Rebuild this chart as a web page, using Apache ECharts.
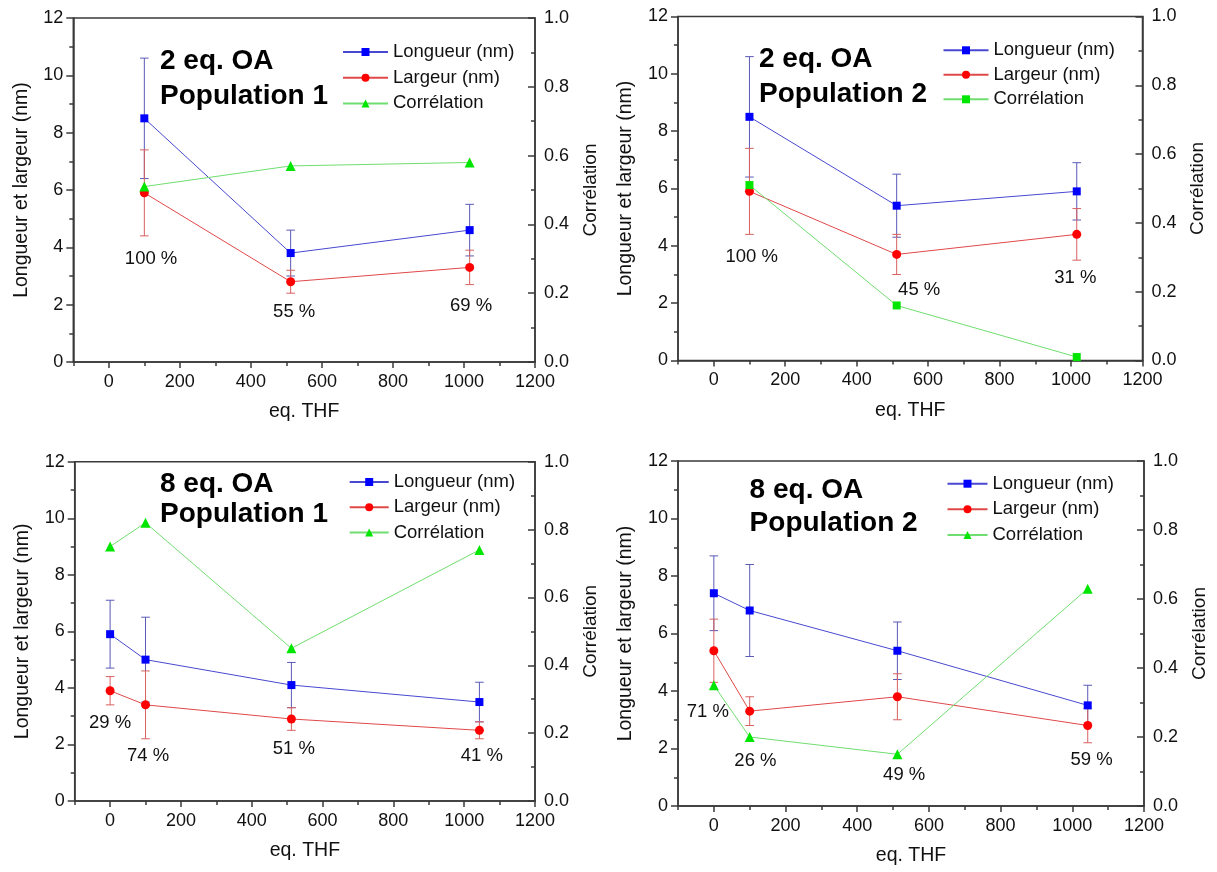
<!DOCTYPE html>
<html><head><meta charset="utf-8">
<script src="https://cdn.jsdelivr.net/npm/echarts@6/dist/echarts.min.js"></script>
<style>
html,body{margin:0;padding:0;background:#fff;width:1217px;height:872px;overflow:hidden}
.p{position:absolute}
</style></head>
<body>
<div id="c1" class="p" style="left:0;top:0;width:608px;height:436px"></div>
<div id="c2" class="p" style="left:608px;top:0;width:609px;height:436px"></div>
<div id="c3" class="p" style="left:0;top:436px;width:608px;height:436px"></div>
<div id="c4" class="p" style="left:608px;top:436px;width:609px;height:436px"></div>
<script>
// ---------- DATA ----------
const seriesNames = ['Longueur (nm)', 'Largeur (nm)', 'Corrélation'];
const xTickLabels = [0, 200, 400, 600, 800, 1000, 1200];
const xMinorTicks = [-100, 100, 300, 500, 700, 900, 1100];

// Panel 1 : 2 eq. OA, Population 1
const p1Title = ['2 eq. OA', 'Population 1'];
const p1Thf = [100, 512, 1016];
const p1Longueur = [8.5, 3.8, 4.6];
const p1LongueurErr = [2.1, 0.8, 0.9];
const p1Largeur = [5.9, 2.8, 3.3];
const p1LargeurErr = [1.5, 0.4, 0.6];
const p1Correlation = [0.51, 0.57, 0.58];
const p1Pct = ['100 %', '55 %', '69 %'];
const p1PctX = [119, 522, 1020];
const p1PctY = [3.6, 1.74, 1.97];

// Panel 2 : 2 eq. OA, Population 2
const p2Title = ['2 eq. OA', 'Population 2'];
const p2Thf = [100, 512, 1016];
const p2Longueur = [8.5, 5.4, 5.9];
const p2LongueurErr = [2.1, 1.1, 1.0];
const p2Largeur = [5.9, 3.7, 4.4];
const p2LargeurErr = [1.5, 0.7, 0.9];
const p2Correlation = [0.51, 0.16, 0.01];
const p2Pct = ['100 %', '45 %', '31 %'];
const p2PctX = [106, 575, 1012];
const p2PctY = [3.62, 2.46, 2.87];

// Panel 3 : 8 eq. OA, Population 1
const p3Title = ['8 eq. OA', 'Population 1'];
const p3Thf = [0, 100, 512, 1043];
const p3Longueur = [5.9, 5.0, 4.1, 3.5];
const p3LongueurErr = [1.2, 1.5, 0.8, 0.7];
const p3Largeur = [3.9, 3.4, 2.9, 2.5];
const p3LargeurErr = [0.5, 1.2, 0.4, 0.3];
const p3Correlation = [0.75, 0.82, 0.45, 0.74];
const p3Pct = ['29 %', '74 %', '51 %', '41 %'];
const p3PctX = [0, 107, 519, 1050];
const p3PctY = [2.75, 1.60, 1.84, 1.60];

// Panel 4 : 8 eq. OA, Population 2
const p4Title = ['8 eq. OA', 'Population 2'];
const p4Thf = [0, 100, 512, 1043];
const p4Longueur = [7.4, 6.8, 5.4, 3.5];
const p4LongueurErr = [1.3, 1.6, 1.0, 0.7];
const p4Largeur = [5.4, 3.3, 3.8, 2.8];
const p4LargeurErr = [1.1, 0.5, 0.8, 0.6];
const p4Correlation = [0.35, 0.20, 0.15, 0.63];
const p4Pct = ['71 %', '26 %', '49 %', '59 %'];
const p4PctX = [-17, 116, 531, 1054];
const p4PctY = [3.28, 1.58, 1.08, 1.60];

// ---------- STYLE / LAYOUT ----------
const FONT = '"Liberation Sans", Arial, Helvetica, sans-serif';
const AX = '#3a3a3a';
const TXT = '#111111';
const BLUE = '#0000ff', BLUE_LINE = '#4848d0', BLUE_ERR = '#5a5ab8';
const RED = '#ff0000', RED_LINE = '#e04848', RED_ERR = '#d86060';
const GREEN = '#00e600', GREEN_LINE = '#70dd70';

const panels = [
  { el: 'c1', title: p1Title, x: p1Thf, lon: p1Longueur, lonErr: p1LongueurErr, lar: p1Largeur, larErr: p1LargeurErr,
    cor: p1Correlation, corSymbol: 'triangle', pct: p1Pct, pctX: p1PctX, pctY: p1PctY,
    grid: { left: 73.3, top: 18, width: 466, height: 344 },
    titleX: 160, titleY: [62, 97], legend: { left: 342, top: 42, w: 45, gap: 5.7 } },
  { el: 'c2', title: p2Title, x: p2Thf, lon: p2Longueur, lonErr: p2LongueurErr, lar: p2Largeur, larErr: p2LargeurErr,
    cor: p2Correlation, corSymbol: 'rect', pct: p2Pct, pctX: p2PctX, pctY: p2PctY,
    grid: { left: 67, top: 16.5, width: 467.5, height: 344 },
    titleX: 151, titleY: [60, 95], legend: { left: 334.5, top: 40.3, w: 45, gap: 4.5 } },
  { el: 'c3', title: p3Title, x: p3Thf, lon: p3Longueur, lonErr: p3LongueurErr, lar: p3Largeur, larErr: p3LargeurErr,
    cor: p3Correlation, corSymbol: 'triangle', pct: p3Pct, pctX: p3PctX, pctY: p3PctY,
    grid: { left: 74.7, top: 25.7, width: 466.3, height: 339.3 },
    titleX: 160, titleY: [49, 79], legend: { left: 348.7, top: 36, w: 39, gap: 5.3 } },
  { el: 'c4', title: p4Title, x: p4Thf, lon: p4Longueur, lonErr: p4LongueurErr, lar: p4Largeur, larErr: p4LargeurErr,
    cor: p4Correlation, corSymbol: 'triangle', pct: p4Pct, pctX: p4PctX, pctY: p4PctY,
    grid: { left: 69.2, top: 25, width: 472.4, height: 345 },
    titleX: 141.6, titleY: [55.7, 88], legend: { left: 338.5, top: 37.7, w: 40, gap: 5.6 } }
];

function errSeries(xs, vals, errs, color) {
  return {
    type: 'custom', xAxisIndex: 0, yAxisIndex: 0, z: 1, silent: true,
    data: xs.map((x, i) => [x, vals[i] - errs[i], vals[i] + errs[i]]),
    renderItem: function (params, api) {
      const lo = api.coord([api.value(0), api.value(1)]);
      const hi = api.coord([api.value(0), api.value(2)]);
      const cw = 4.3;
      const st = { stroke: color, lineWidth: 1 };
      return { type: 'group', children: [
        { type: 'line', shape: { x1: lo[0], y1: lo[1], x2: hi[0], y2: hi[1] }, style: st },
        { type: 'line', shape: { x1: lo[0] - cw, y1: lo[1], x2: lo[0] + cw, y2: lo[1] }, style: st },
        { type: 'line', shape: { x1: hi[0] - cw, y1: hi[1], x2: hi[0] + cw, y2: hi[1] }, style: st }
      ]};
    }
  };
}

function build(p) {
  const g = p.grid;
  const axisLine = { show: true, onZero: false, lineStyle: { color: AX, width: 1.5 } };
  const tickStyle = { color: AX, width: 1.5 };
  return {
    animation: false,
    textStyle: { fontFamily: FONT },
    grid: { left: g.left, top: g.top, width: g.width, height: g.height, show: true,
            borderColor: AX, borderWidth: 1.5, backgroundColor: 'transparent' },
    xAxis: [
      { type: 'value', min: -100, max: 1200, interval: 100, position: 'bottom',
        name: 'eq. THF', nameLocation: 'middle', nameGap: 40,
        nameTextStyle: { fontSize: 19.5, color: TXT, fontFamily: FONT },
        axisLine: axisLine,
        axisTick: { show: true, length: 6, lineStyle: tickStyle, customValues: xTickLabels },
        axisLabel: { show: true, fontSize: 18, color: TXT, margin: 11, fontFamily: FONT,
                     customValues: xTickLabels, formatter: v => String(v) },
        splitLine: { show: false } },
      { type: 'value', min: -100, max: 1200, interval: 100, position: 'bottom',
        axisLine: { show: false, onZero: false },
        axisTick: { show: true, length: 4, lineStyle: tickStyle, customValues: xMinorTicks },
        axisLabel: { show: false },
        splitLine: { show: false } }
    ],
    yAxis: [
      { type: 'value', min: 0, max: 12, interval: 2, position: 'left',
        name: 'Longueur et largeur (nm)', nameLocation: 'middle', nameGap: 42, nameRotate: 90,
        nameTextStyle: { fontSize: 19.5, color: TXT, fontFamily: FONT },
        axisLine: axisLine,
        axisTick: { show: true, length: 7, lineStyle: tickStyle },
        minorTick: { show: true, splitNumber: 2, length: 4, lineStyle: tickStyle },
        axisLabel: { fontSize: 18, color: TXT, margin: 10, fontFamily: FONT },
        splitLine: { show: false } },
      { type: 'value', min: 0, max: 1, interval: 0.2, position: 'right',
        name: 'Corrélation', nameLocation: 'middle', nameGap: 46, nameRotate: 90,
        nameTextStyle: { fontSize: 19, color: TXT, fontFamily: FONT },
        axisLine: axisLine,
        axisTick: { show: true, inside: true, length: 7, lineStyle: tickStyle },
        minorTick: { show: true, splitNumber: 2, length: 4, lineStyle: tickStyle },
        axisLabel: { fontSize: 18, color: TXT, margin: 9, fontFamily: FONT,
                     formatter: v => v.toFixed(1) },
        splitLine: { show: false } }
    ],
    legend: {
      orient: 'vertical', left: p.legend.left, top: p.legend.top, padding: 0,
      itemWidth: p.legend.w, itemHeight: 10, itemGap: p.legend.gap, selectedMode: false,
      textStyle: { fontSize: 18.5, color: TXT, lineHeight: 20, fontFamily: FONT },
      data: seriesNames
    },
    graphic: [
      { type: 'text', left: p.titleX, top: p.titleY[0] - 15, silent: true,
        style: { text: p.title[0], font: 'bold 28px ' + FONT, fill: '#000' } },
      { type: 'text', left: p.titleX, top: p.titleY[1] - 15, silent: true,
        style: { text: p.title[1], font: 'bold 28px ' + FONT, fill: '#000' } }
    ],
    series: [
      errSeries(p.x, p.lon, p.lonErr, BLUE_ERR),
      errSeries(p.x, p.lar, p.larErr, RED_ERR),
      { name: seriesNames[0], type: 'line', xAxisIndex: 0, yAxisIndex: 0, z: 3,
        data: p.x.map((x, i) => [x, p.lon[i]]),
        symbol: 'rect', symbolSize: 8, showAllSymbol: true,
        itemStyle: { color: BLUE }, lineStyle: { color: BLUE_LINE, width: 1 } },
      { name: seriesNames[1], type: 'line', xAxisIndex: 0, yAxisIndex: 0, z: 3,
        data: p.x.map((x, i) => [x, p.lar[i]]),
        symbol: 'circle', symbolSize: 9,
        itemStyle: { color: RED }, lineStyle: { color: RED_LINE, width: 1 } },
      { name: seriesNames[2], type: 'line', xAxisIndex: 0, yAxisIndex: 1, z: 3,
        data: p.x.map((x, i) => [x, p.cor[i]]),
        symbol: p.corSymbol, symbolSize: p.corSymbol === 'rect' ? 8 : 10,
        itemStyle: { color: GREEN }, lineStyle: { color: GREEN_LINE, width: 1 } },
      { name: 'pct', type: 'scatter', xAxisIndex: 0, yAxisIndex: 0, z: 4, silent: true,
        symbolSize: 1, itemStyle: { color: '#ffffff', opacity: 1 },
        data: p.pct.map((t, i) => ({ name: t, value: [p.pctX[i], p.pctY[i]] })),
        label: { show: true, position: 'inside', formatter: '{b}', fontSize: 18.5, color: TXT,
                 fontFamily: FONT, textBorderWidth: 0, opacity: 1 } }
    ]
  };
}

panels.forEach(p => {
  const chart = echarts.init(document.getElementById(p.el), null, { renderer: 'canvas' });
  chart.setOption(build(p));
});
</script>
</body></html>
